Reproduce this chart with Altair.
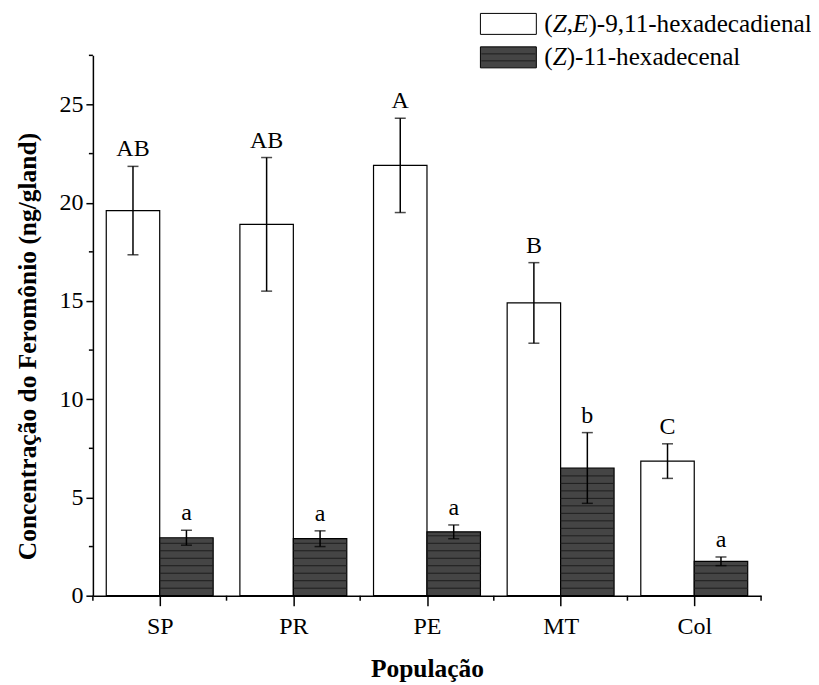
import altair as alt
import pandas as pd

# ---------------- data ----------------
populations = ["SP", "PR", "PE", "MT", "Col"]
zE_mean = [19.6, 18.9, 21.9, 14.9, 6.85]
zE_err = [2.25, 3.4, 2.4, 2.05, 0.88]
zE_letters = ["AB", "AB", "A", "B", "C"]
z_mean = [2.95, 2.9, 3.25, 6.5, 1.75]
z_err = [0.38, 0.4, 0.35, 1.8, 0.22]
z_letters = ["a", "a", "a", "b", "a"]
series_names = ["(Z,E)-9,11-hexadecadienal", "(Z)-11-hexadecenal"]
y_ticks = [0, 5, 10, 15, 20, 25]
y_minor = [2.5, 7.5, 12.5, 17.5, 22.5, 27.5]
x_minor = [-0.5, 0.5, 1.5, 2.5, 3.5, 4.5]

# ---------------- layout / style ----------------
W, H = 669, 541
YMAX = 27.5
BAR = 0.4
STRIPE = 0.381
FONT = "Liberation Serif"
FS = 24
DARK = "#454545"

rows = []
for i, p in enumerate(populations):
    rows.append(dict(pop=p, idx=i, series=series_names[0], mean=zE_mean[i], err=zE_err[i],
                     letter=zE_letters[i], x0=i - BAR, x1=i))
    rows.append(dict(pop=p, idx=i, series=series_names[1], mean=z_mean[i], err=z_err[i],
                     letter=z_letters[i], x0=i, x1=i + BAR))
df = pd.DataFrame(rows)
df["xc"] = (df["x0"] + df["x1"]) / 2
df["lo"] = df["mean"] - df["err"]
df["hi"] = df["mean"] + df["err"]
df["base"] = 0.0

# stripe texture for the dark bars
srows = []
for i, m in enumerate(z_mean):
    k = 1
    while k * STRIPE < m - 0.12:
        srows.append(dict(x0=i, x1=i + BAR, y=k * STRIPE))
        k += 1
sdf = pd.DataFrame(srows)

xs = alt.Scale(domain=[-0.5, 4.5], nice=False, zero=False)
ys = alt.Scale(domain=[0, YMAX], nice=False)
fill_scale = alt.Scale(domain=series_names, range=["white", DARK])

label_expr = "[" + ",".join("'%s'" % p for p in populations) + "][datum.value]"

x_axis = alt.Axis(values=[0, 1, 2, 3, 4], labelExpr=label_expr, title="População",
                  tickSize=10, labelPadding=9, titleY=73, titleBaseline="middle", grid=False)
y_axis = alt.Axis(values=y_ticks, title="Concentração do Feromônio (ng/gland)",
                  tickSize=7, labelPadding=3, grid=False,
                  titleX=-65, titleY=291, titleBaseline="middle", titleAlign="center")


def X(f):
    return alt.X(f, scale=xs, axis=x_axis)


def Y(f):
    return alt.Y(f, scale=ys, axis=y_axis)


bars = alt.Chart(df).mark_bar(stroke="black", strokeWidth=1.2).encode(
    x=X("x0:Q"), x2="x1:Q",
    y=Y("mean:Q"), y2="base:Q",
    fill=alt.Fill("series:N", scale=fill_scale, legend=None),
)

stripes = alt.Chart(sdf).mark_rule(color="#1e1e1e", strokeWidth=1).encode(
    x=X("x0:Q"), x2="x1:Q", y=Y("y:Q"),
)

err_line = alt.Chart(df).mark_rule(color="black", strokeWidth=1.5).encode(
    x=X("xc:Q"), y=Y("lo:Q"), y2="hi:Q",
)
cap_hi = alt.Chart(df).mark_tick(orient="horizontal", color="black", size=11, thickness=1.5).encode(
    x=X("xc:Q"), y=Y("hi:Q"))
cap_lo = alt.Chart(df).mark_tick(orient="horizontal", color="black", size=11, thickness=1.5).encode(
    x=X("xc:Q"), y=Y("lo:Q"))

letters = alt.Chart(df).mark_text(baseline="alphabetic", dy=-10, fontSize=FS, font=FONT,
                                  color="black").encode(
    x=X("xc:Q"), y=Y("hi:Q"), text="letter:N")

xminor = alt.Chart(pd.DataFrame({"v": x_minor})).mark_rule(color="black", strokeWidth=1.5).encode(
    x=X("v:Q"), y=alt.value(H), y2=alt.value(H + 5))
yminor = alt.Chart(pd.DataFrame({"v": y_minor})).mark_rule(color="black", strokeWidth=1.5).encode(
    y=Y("v:Q"), x=alt.value(0), x2=alt.value(-4))

# ---------------- legend (manual, for mixed italics) ----------------
LF = 25.2
times_w = {"(": 0.333, ")": 0.333, ",": 0.25, "Z": 0.556, "E": 0.611}
legend_rows = [
    (-31.5, [("(", False), ("Z", True), (",", False), ("E", True), (")-9,11-hexadecadienal", False)]),
    (2.0, [("(", False), ("Z", True), (")-11-hexadecenal", False)]),
]
legend_layers = []
box_x0, box_x1, text_x = 388, 444, 452
for (cy, segs), color in zip(legend_rows, ["white", DARK]):
    legend_layers.append(
        alt.Chart(pd.DataFrame({"a": [0]})).mark_rect(fill=color, stroke="black", strokeWidth=1).encode(
            x=alt.value(box_x0), x2=alt.value(box_x1), y=alt.value(cy - 10.5), y2=alt.value(cy + 10.5)))
    if color == DARK:
        for dy in [-3.5, 3.5]:
            legend_layers.append(
                alt.Chart(pd.DataFrame({"a": [0]})).mark_rule(color="#1e1e1e", strokeWidth=1).encode(
                    x=alt.value(box_x0 + 1), x2=alt.value(box_x1 - 1), y=alt.value(cy + dy)))
    px = text_x
    for t, ital in segs:
        legend_layers.append(
            alt.Chart(pd.DataFrame({"a": [0]})).mark_text(
                align="left", baseline="middle", fontSize=LF, font=FONT,
                fontStyle="italic" if ital else "normal", color="black").encode(
                x=alt.value(px), y=alt.value(cy), text=alt.value(t)))
        if len(t) == 1:
            px += times_w[t] * LF

chart = alt.layer(bars, stripes, err_line, cap_hi, cap_lo, letters, xminor, yminor,
                  *legend_layers).properties(
    width=W, height=H,
    autosize=alt.AutoSizeParams(type="none"),
    padding={"left": 85, "top": 47, "right": 50, "bottom": 88},
).configure_view(stroke=None).configure_axis(
    domainColor="black", domainWidth=1.5, tickColor="black", tickWidth=1.5,
    labelFont=FONT, labelFontSize=FS, labelColor="black",
    titleFont=FONT, titleFontSize=25.5, titleFontWeight="bold", titleColor="black",
)

chart.save("out.html", embed_options={"renderer": "svg", "actions": False})
